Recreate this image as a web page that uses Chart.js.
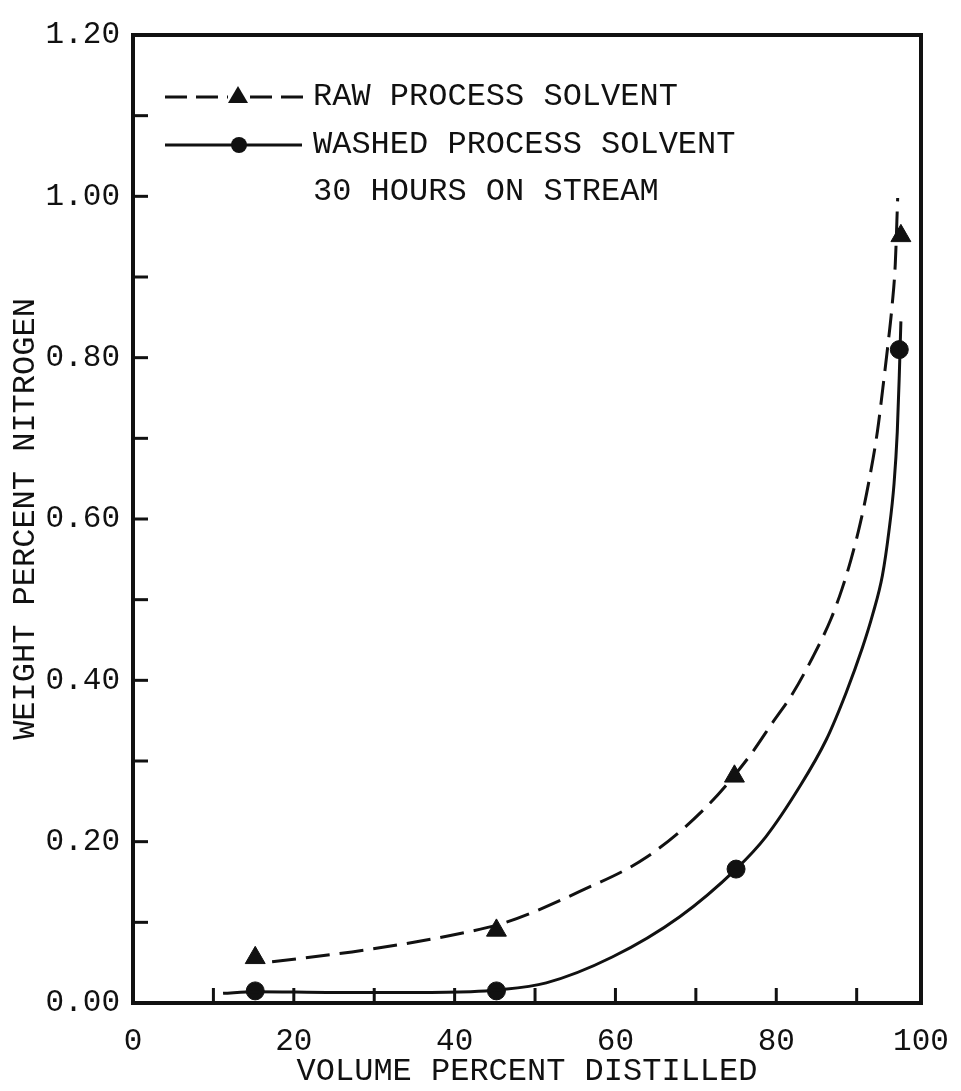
<!DOCTYPE html>
<html>
<head>
<meta charset="utf-8">
<script src="https://cdn.jsdelivr.net/npm/chart.js@4.4.0/dist/chart.umd.min.js"></script>
<style>
html,body{margin:0;padding:0;background:#ffffff;}
#wrap{width:961px;height:1091px;position:relative;}
</style>
</head>
<body>
<div id="wrap"><canvas id="c" width="961" height="1091"></canvas></div>
<script>
// ---- Data ----
const rawPointX    = [15.2, 45.2, 74.8, 95.5];
const rawPointY    = [0.056, 0.090, 0.281, 0.951];
const washedPointX = [15.2, 45.2, 75.0, 95.3];
const washedPointY = [0.015, 0.015, 0.166, 0.810];

// hand-drawn smooth curves
const rawCurveX = [17.3, 29.1, 41.6, 46.4, 55.5, 63.9, 71.3, 76.6, 79.5, 82.0, 84.5, 86.8, 88.2, 89.3, 90.5, 91.55, 92.6, 93.25, 93.9, 94.4, 94.8, 95.1];
const rawCurveY = [0.051, 0.066, 0.088, 0.100, 0.138, 0.181, 0.243, 0.305, 0.347, 0.383, 0.428, 0.476, 0.514, 0.550, 0.597, 0.648, 0.710, 0.762, 0.817, 0.864, 0.916, 0.998];
const washedCurveX = [11.2, 15.2, 25.0, 35.0, 42.0, 45.2, 51.4, 59.6, 68.0, 75.0, 78.7, 82.9, 86.2, 88.7, 90.7, 92.0, 93.2, 94.0, 94.65, 95.05, 95.3, 95.5];
const washedCurveY = [0.012, 0.014, 0.013, 0.013, 0.014, 0.016, 0.025, 0.057, 0.107, 0.166, 0.206, 0.268, 0.326, 0.385, 0.440, 0.482, 0.530, 0.584, 0.644, 0.708, 0.778, 0.845];

const xTickValues = [0, 10, 20, 30, 40, 50, 60, 70, 80, 90, 98];
const xTickLabels = ['0', '', '20', '', '40', '', '60', '', '80', '', '100'];
const yTickLabels = ['0.00', '', '0.20', '', '0.40', '', '0.60', '', '0.80', '', '1.00', '', '1.20'];
const legendLabels = ['RAW PROCESS SOLVENT', 'WASHED PROCESS SOLVENT', '30 HOURS ON STREAM'];
const xTitle = 'VOLUME PERCENT DISTILLED';
const yTitle = 'WEIGHT PERCENT NITROGEN';

const INK = '#111111';
const FONT_FAMILY = '"Liberation Mono", "DejaVu Sans Mono", monospace';
const zip = (xs, ys) => xs.map((x, i) => ({x: x, y: ys[i]}));

const framePlugin = {
  id: 'frame',
  afterDraw(chart) {
    const {ctx, chartArea: a} = chart;
    const xs = chart.scales.x, ys = chart.scales.y;
    ctx.save();
    ctx.strokeStyle = INK;
    ctx.fillStyle = INK;
    ctx.setLineDash([]);
    ctx.lineCap = 'butt';
    // inner tick marks
    ctx.lineWidth = 3;
    xs.ticks.forEach(t => {
      if (t.value <= xs.min || t.value >= xs.max) return;
      const px = xs.getPixelForValue(t.value);
      ctx.beginPath(); ctx.moveTo(px, a.bottom); ctx.lineTo(px, a.bottom - 15); ctx.stroke();
    });
    ys.ticks.forEach(t => {
      if (t.value <= ys.min || t.value >= ys.max) return;
      const py = ys.getPixelForValue(t.value);
      ctx.beginPath(); ctx.moveTo(a.left, py); ctx.lineTo(a.left + 15, py); ctx.stroke();
    });
    // frame
    ctx.lineWidth = 4;
    ctx.strokeRect(a.left, a.top, a.right - a.left, a.bottom - a.top);

    // legend inside the plot
    const lx0 = a.left + 32, lx1 = a.left + 173, mx = a.left + 105, tx = a.left + 180;
    const r1 = a.top + 62, r2 = a.top + 110, r3 = a.top + 157;
    ctx.lineWidth = 3;
    ctx.setLineDash([22, 9]);
    ctx.beginPath(); ctx.moveTo(lx0, r1); ctx.lineTo(mx - 10, r1); ctx.stroke();
    ctx.beginPath(); ctx.moveTo(mx + 12, r1); ctx.lineTo(lx1, r1); ctx.stroke();
    ctx.setLineDash([]);
    ctx.beginPath();
    ctx.moveTo(mx, r1 - 11); ctx.lineTo(mx + 10, r1 + 6); ctx.lineTo(mx - 10, r1 + 6); ctx.closePath(); ctx.fill();
    ctx.beginPath(); ctx.moveTo(lx0, r2); ctx.lineTo(lx1 - 4, r2); ctx.stroke();
    ctx.beginPath(); ctx.arc(mx + 1, r2, 8, 0, Math.PI * 2); ctx.fill();
    ctx.font = '32px ' + FONT_FAMILY;
    ctx.textBaseline = 'middle';
    ctx.textAlign = 'left';
    ctx.fillText(legendLabels[0], tx, r1);
    ctx.fillText(legendLabels[1], tx, r2);
    ctx.fillText(legendLabels[2], tx, r3);
    ctx.restore();
  }
};

new Chart(document.getElementById('c'), {
  type: 'scatter',
  data: {
    datasets: [
      {
        label: 'raw curve',
        data: zip(rawCurveX, rawCurveY),
        showLine: true,
        borderColor: INK,
        borderWidth: 3,
        borderDash: [24, 10],
        pointRadius: 0,
        cubicInterpolationMode: 'monotone',
        fill: false
      },
      {
        label: 'washed curve',
        data: zip(washedCurveX, washedCurveY),
        showLine: true,
        borderColor: INK,
        borderWidth: 3,
        pointRadius: 0,
        cubicInterpolationMode: 'monotone',
        fill: false
      },
      {
        label: legendLabels[0],
        data: zip(rawPointX, rawPointY),
        showLine: false,
        pointStyle: 'triangle',
        pointRadius: 11.5,
        backgroundColor: INK,
        borderColor: INK,
        borderWidth: 1
      },
      {
        label: legendLabels[1],
        data: zip(washedPointX, washedPointY),
        showLine: false,
        pointStyle: 'circle',
        pointRadius: 9,
        backgroundColor: INK,
        borderColor: INK,
        borderWidth: 1
      }
    ]
  },
  options: {
    responsive: false,
    animation: false,
    devicePixelRatio: 1,
    layout: {padding: {top: 35, right: 40, left: 0, bottom: 0}},
    plugins: {legend: {display: false}, tooltip: {enabled: false}},
    events: [],
    scales: {
      x: {
        type: 'linear',
        min: 0,
        max: 98,
        afterBuildTicks: s => { s.ticks = xTickValues.map(v => ({value: v})); },
        afterFit: s => { s.height = 88; s.paddingLeft = 0; s.paddingRight = 0; },
        grid: {display: false, drawTicks: false, tickLength: 0},
        border: {display: false},
        ticks: {
          autoSkip: false,
          maxRotation: 0,
          padding: 20,
          color: INK,
          font: {family: FONT_FAMILY, size: 31},
          callback: (v, i) => xTickLabels[i]
        },
        title: {display: true, text: xTitle, color: INK, font: {family: FONT_FAMILY, size: 32}, padding: {top: 0, bottom: 0}}
      },
      y: {
        type: 'linear',
        min: 0,
        max: 1.2,
        afterBuildTicks: s => { s.ticks = yTickLabels.map((l, i) => ({value: Math.round(i * 10) / 100})); },
        afterFit: s => { s.width = 133; },
        grid: {display: false, drawTicks: false, tickLength: 0},
        border: {display: false},
        ticks: {
          autoSkip: false,
          padding: 13,
          color: INK,
          font: {family: FONT_FAMILY, size: 31},
          callback: (v, i) => yTickLabels[i]
        },
        title: {display: true, text: yTitle, color: INK, font: {family: FONT_FAMILY, size: 32}, padding: {top: 6, bottom: 0}}
      }
    }
  },
  plugins: [framePlugin]
});
</script>
</body>
</html>
